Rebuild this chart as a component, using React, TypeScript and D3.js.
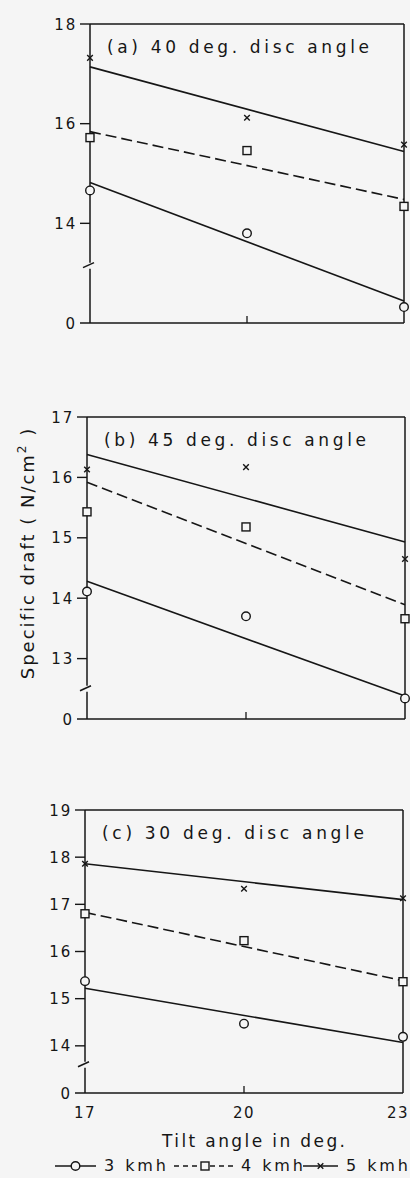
import React from "react";
import * as d3 from "d3";

// tilt angle (deg) at which draft was measured
const tiltAngles = [17, 20, 23];
// the fitted lines are drawn between the two extreme tilt angles
const fitEnds = [17, 23];

const panelTitles = [
  "(a) 40 deg. disc angle",
  "(b) 45 deg. disc angle",
  "(c) 30 deg. disc angle",
];

// y tick labels for each panel; the bottom of each axis is broken and labelled 0
const yTickValues = [
  [18, 16, 14],
  [17, 16, 15, 14, 13],
  [19, 18, 17, 16, 15, 14],
];
const yFloor = [12, 12, 13];
const yCeil = [18, 17, 19];
const breakValue = [13.15, 12.5, 13.6];
const xTickLabels = ["17", "20", "23"];

// measured specific draft (N/cm2), one row per panel (a, b, c)
const draft3kmh = [
  [14.66, 13.8, 12.32],
  [14.11, 13.7, 12.34],
  [15.37, 14.47, 14.19],
];
const draft4kmh = [
  [15.72, 15.46, 14.34],
  [15.43, 15.18, 13.66],
  [16.8, 16.23, 15.36],
];
const draft5kmh = [
  [17.32, 16.12, 15.58],
  [16.13, 16.17, 14.65],
  [17.86, 17.33, 17.13],
];

// fitted line values at 17 and 23 deg
const fit3kmh = [
  [14.82, 12.44],
  [14.28, 12.38],
  [15.22, 14.07],
];
const fit4kmh = [
  [15.84, 14.48],
  [15.92, 13.89],
  [16.83, 15.38],
];
const fit5kmh = [
  [17.14, 15.44],
  [16.38, 14.93],
  [17.86, 17.1],
];

const legendLabels = ["3 kmh", "4 kmh", "5 kmh"];

const INK = "#161616";
const FONT = "'DejaVu Sans', sans-serif";

// pixel frame for each panel (the scan is slightly skewed, so they differ a bit)
const frames = [
  { top: 24, bottom: 323, left: 90, right: 404 },
  { top: 417, bottom: 719, left: 87, right: 405 },
  { top: 810, bottom: 1093, left: 85, right: 403 },
];

function Marker({ kind, x, y }: { kind: string; x: number; y: number }) {
  if (kind === "circle")
    return <circle cx={x} cy={y} r={4.3} fill="#f5f5f5" stroke={INK} strokeWidth={1.4} />;
  if (kind === "square")
    return <rect x={x - 4} y={y - 4} width={8} height={8} fill="#f5f5f5" stroke={INK} strokeWidth={1.4} />;
  const s = 2.8;
  return (
    <path
      d={`M${x - s},${y - s}L${x + s},${y + s}M${x + s},${y - s}L${x - s},${y + s}`}
      stroke={INK}
      strokeWidth={1.4}
    />
  );
}

function Panel({ i }: { i: number }) {
  const f = frames[i];
  const x = d3.scaleLinear().domain([17, 23]).range([f.left, f.right]);
  const y = d3.scaleLinear().domain([yFloor[i], yCeil[i]]).range([f.bottom, f.top]);
  const line = d3
    .line<number>()
    .x((d, j) => x(fitEnds[j]))
    .y((d) => y(d));

  const series = [
    { pts: draft3kmh[i], fit: fit3kmh[i], kind: "circle", dash: undefined },
    { pts: draft4kmh[i], fit: fit4kmh[i], kind: "square", dash: "11,5" },
    { pts: draft5kmh[i], fit: fit5kmh[i], kind: "cross", dash: undefined },
  ];
  const by = y(breakValue[i]);

  return (
    <g>
      {/* frame: top, right, bottom, and left axis with break */}
      <line x1={f.left} x2={f.right} y1={f.top} y2={f.top} stroke={INK} strokeWidth={1.5} />
      <line x1={f.right} x2={f.right} y1={f.top} y2={f.bottom} stroke={INK} strokeWidth={1.5} />
      <line x1={f.left - 10} x2={f.right} y1={f.bottom} y2={f.bottom} stroke={INK} strokeWidth={1.6} />
      <line x1={f.left} x2={f.left} y1={f.top} y2={by - 3} stroke={INK} strokeWidth={1.5} />
      <line x1={f.left} x2={f.left} y1={by + 3} y2={f.bottom} stroke={INK} strokeWidth={1.5} />
      <path d={`M${f.left - 7},${by + 2}L${f.left + 4},${by - 3}`} stroke={INK} strokeWidth={1.5} fill="none" />

      {yTickValues[i].map((t) => (
        <g key={t}>
          <line x1={f.left - 10} x2={f.left} y1={y(t)} y2={y(t)} stroke={INK} strokeWidth={1.4} />
          <text
            x={f.left - 13}
            y={y(t) + 5.5}
            textAnchor="end"
            fontSize={15}
            letterSpacing={1.8}
            fontFamily={FONT}
            fill={INK}
          >
            {t}
          </text>
        </g>
      ))}
      <text x={f.left - 15} y={f.bottom + 5.5} textAnchor="end" fontSize={15} fontFamily={FONT} fill={INK}>
        0
      </text>

      {/* small tick at 20 deg on the bottom axis */}
      <line x1={x(20)} x2={x(20)} y1={f.bottom - 7} y2={f.bottom} stroke={INK} strokeWidth={1.3} />

      <text
        x={f.left + 17}
        y={f.top + 29}
        fontSize={17}
        fontFamily={FONT}
        fill={INK}
        textLength={262}
        lengthAdjust="spacing"
      >
        {panelTitles[i]}
      </text>

      {series.map((s, k) => (
        <g key={k}>
          <path d={line(s.fit) || ""} stroke={INK} strokeWidth={1.6} fill="none" strokeDasharray={s.dash} />
          {s.pts.map((v, j) => (
            <Marker key={j} kind={s.kind} x={x(tiltAngles[j])} y={y(v)} />
          ))}
        </g>
      ))}

      {i === 2 &&
        xTickLabels.map((t, j) => (
          <text
            key={t}
            x={j === 2 ? 409 : x(tiltAngles[j])}
            y={f.bottom + 25}
            textAnchor={j === 2 ? "end" : "middle"}
            fontSize={15}
            letterSpacing={1.5}
            fontFamily={FONT}
            fill={INK}
          >
            {t}
          </text>
        ))}
    </g>
  );
}

export default function App() {
  const legendY = 1171;
  const legendItems = [
    { kind: "circle", x1: 55, x2: 96, text: 104, dash: undefined },
    { kind: "square", x1: 174, x2: 236, text: 241, dash: "5,4" },
    { kind: "cross", x1: 303, x2: 338, text: 346, dash: undefined },
  ];
  return (
    <svg
      width={410}
      height={1178}
      style={{ position: "absolute", left: 0, top: 0, background: "#f5f5f5" }}
    >
      {frames.map((_, i) => (
        <Panel key={i} i={i} />
      ))}

      <text
        transform="translate(34,553) rotate(-90)"
        textAnchor="middle"
        fontSize={18}
        fontFamily={FONT}
        fill={INK}
        letterSpacing={2}
      >
        Specific draft ( N/cm<tspan dy={-8} fontSize={12}>2</tspan>
        <tspan dy={8}> )</tspan>
      </text>

      <text
        x={162}
        y={1147}
        fontSize={17}
        fontFamily={FONT}
        fill={INK}
        textLength={183}
        lengthAdjust="spacing"
      >
        Tilt angle in deg.
      </text>

      {legendItems.map((it, k) => (
        <g key={k}>
          <line
            x1={it.x1}
            x2={it.x2}
            y1={legendY - 5}
            y2={legendY - 5}
            stroke={INK}
            strokeWidth={1.5}
            strokeDasharray={it.dash}
          />
          <Marker kind={it.kind} x={(it.x1 + it.x2) / 2} y={legendY - 5} />
          <text
            x={it.text}
            y={legendY}
            fontSize={16}
            fontFamily={FONT}
            fill={INK}
            textLength={62}
            lengthAdjust="spacing"
          >
            {legendLabels[k]}
          </text>
        </g>
      ))}
    </svg>
  );
}
